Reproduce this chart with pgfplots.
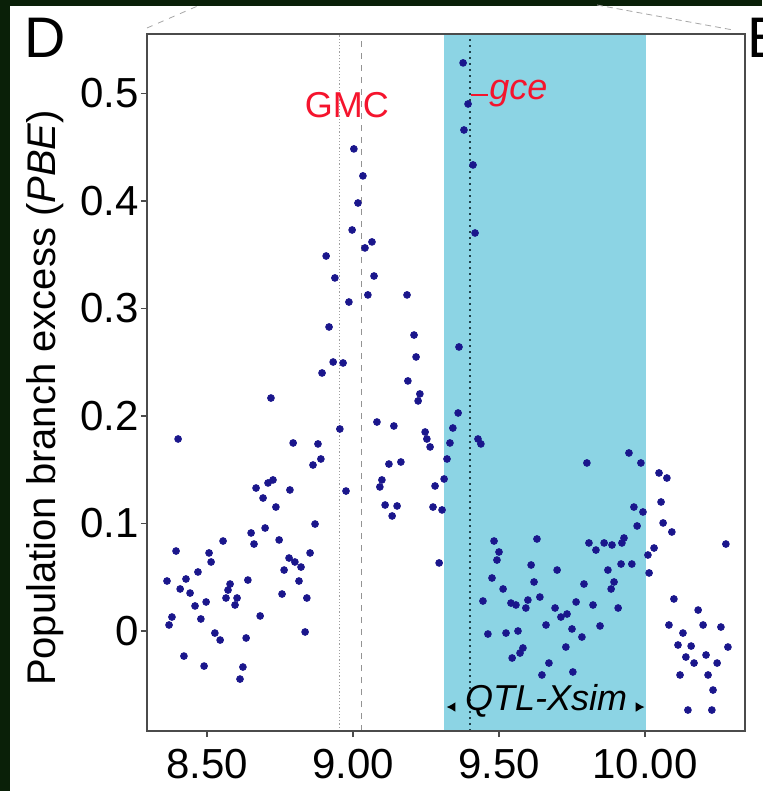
\documentclass[border=0pt]{standalone}
\usepackage{pgfplots}
\pgfplotsset{compat=1.18}
\usepackage{pgfplotstable}
\usepackage{fontspec}
\setmainfont{Liberation Sans}
\usetikzlibrary{arrows.meta}
\definecolor{bg}{RGB}{10,32,8}
\definecolor{qtl}{RGB}{140,212,228}
\definecolor{dots}{RGB}{26,22,140}
\definecolor{framec}{RGB}{75,75,75}
\definecolor{lblred}{RGB}{245,20,45}
\definecolor{gceline}{RGB}{30,65,75}

\pgfplotstableread{
x y
8.719 0.2167
8.401 0.1786
8.955 0.1879
8.795 0.1749
8.880 0.1740
8.890 0.1600
8.863 0.1544
8.726 0.1405
8.709 0.1377
8.668 0.1330
8.692 0.1237
8.784 0.1312
8.736 0.1153
8.976 0.1302
8.870 0.0995
8.651 0.0912
8.699 0.0958
8.661 0.0809
8.747 0.0847
8.555 0.0837
8.394 0.0744
8.507 0.0726
8.514 0.0642
8.853 0.0726
8.781 0.0679
8.801 0.0642
8.822 0.0595
8.764 0.0567
8.469 0.0549
8.363 0.0465
8.428 0.0484
8.640 0.0474
8.815 0.0465
8.579 0.0437
8.572 0.0381
8.408 0.0391
8.442 0.0353
8.459 0.0233
8.497 0.0270
8.565 0.0307
8.603 0.0307
8.596 0.0242
8.757 0.0344
8.842 0.0307
8.682 0.0140
8.479 0.0112
8.380 0.0130
8.370 0.0056
8.527 -0.0019
8.545 -0.0084
8.634 -0.0065
8.836 -0.0009
8.421 -0.0233
8.490 -0.0326
8.623 -0.0335
8.613 -0.0447
9.003 0.4484
9.034 0.4233
9.017 0.3981
8.997 0.3730
9.065 0.3619
9.041 0.3563
9.072 0.3302
9.051 0.3126
8.986 0.3060
9.185 0.3126
9.209 0.2753
9.216 0.2549
9.188 0.2326
8.966 0.2493
8.932 0.2502
8.908 0.3488
8.938 0.3284
8.918 0.2828
8.894 0.2400
9.229 0.2205
9.223 0.2140
9.082 0.1944
9.140 0.1907
9.247 0.1851
9.253 0.1786
9.264 0.1712
9.360 0.2028
9.342 0.1888
9.332 0.1749
9.322 0.1600
9.312 0.1414
9.281 0.1349
9.274 0.1153
9.305 0.1126
9.295 0.0633
9.123 0.1553
9.164 0.1572
9.099 0.1405
9.092 0.1340
9.110 0.1172
9.151 0.1163
9.134 0.1070
9.428 0.1786
9.438 0.1740
9.377 0.5284
9.394 0.4902
9.380 0.4660
9.411 0.4335
9.418 0.3702
9.363 0.2642
9.483 0.0837
9.500 0.0735
9.493 0.0660
9.476 0.0493
9.514 0.0391
9.445 0.0279
9.541 0.0260
9.558 0.0242
9.599 0.0288
9.630 0.0856
9.610 0.0614
9.620 0.0456
9.640 0.0316
9.699 0.0567
9.791 0.0437
9.822 0.0242
9.692 0.0214
9.712 0.0130
9.733 0.0158
9.764 0.0270
9.661 0.0056
9.750 0.0019
9.784 -0.0056
9.846 0.0047
9.729 -0.0149
9.671 -0.0298
9.647 -0.0409
9.753 -0.0381
9.462 -0.0028
9.524 -0.0019
9.565 0.0000
9.582 -0.0158
9.572 -0.0205
9.545 -0.0251
9.908 0.0214
9.873 0.0567
9.894 0.0456
9.884 0.0391
9.918 0.0623
9.955 0.0623
9.801 0.1563
9.945 0.1656
9.986 0.1563
10.048 0.1470
10.075 0.1423
10.055 0.1200
9.962 0.1153
9.993 0.1107
9.973 0.0977
10.062 0.1005
10.092 0.0921
9.808 0.0819
9.832 0.0753
9.860 0.0819
9.887 0.0800
9.921 0.0819
9.928 0.0865
10.010 0.0707
10.031 0.0772
10.014 0.0540
10.277 0.0809
10.099 0.0298
10.182 0.0195
10.082 0.0056
10.130 -0.0019
10.199 0.0056
10.260 0.0037
10.113 -0.0130
10.158 -0.0140
10.140 -0.0242
10.168 -0.0298
10.209 -0.0223
10.247 -0.0298
10.284 -0.0149
10.120 -0.0409
10.216 -0.0409
10.233 -0.0549
10.147 -0.0735
10.229 -0.0735
9.592 0.0214
}\pbedata

\begin{document}
\begin{tikzpicture}
% frame of the whole picture (axis box south-west corner is the origin)
\useasboundingbox (-73.5pt,365.5pt) rectangle (307.5pt,-30pt);
\fill[bg] (-73.5pt,365.5pt) rectangle (307.5pt,-30pt);
\fill[white] (-68.5pt,362.5pt) rectangle (307.5pt,-30pt);
% cropped remnants of the panel above
\draw[gray!70, dashed, line width=0.4pt] (0pt,351.5pt) -- (26.5pt,363pt);
\draw[gray!70, densely dashed, line width=0.4pt] (225pt,363pt) -- (293pt,350.5pt);
\node[anchor=base west, inner sep=0, font=\fontsize{28.6}{30}\selectfont] at (-61.5pt,336.5pt) {D};
\node[anchor=base west, inner sep=0, font=\fontsize{28.6}{30}\selectfont] at (300.2pt,336.5pt) {E};
\begin{axis}[
  at={(0pt,0pt)}, anchor=south west,
  scale only axis, width=299pt, height=348.5pt,
  xmin=8.2945, xmax=10.3425, ymin=-0.093, ymax=0.5553,
  axis on top,
  axis line style={framec, line width=1.1pt},
  tick align=outside, tick pos=left, major tick length=3pt,
  tick style={framec, line width=0.6pt},
  xtick={8.5,9,9.5,10}, xticklabels={8.50,9.00,9.50,10.00},
  ytick={0,0.1,0.2,0.3,0.4,0.5}, yticklabels={0,0.1,0.2,0.3,0.4,0.5},
  ticklabel style={font=\fontsize{21}{25}\selectfont, inner sep=1pt},
  xticklabel style={yshift=-5pt},
  ylabel={Population branch excess (\textit{PBE})},
  ylabel style={font=\fontsize{20}{24}\selectfont, at={(axis description cs:-0.1706,0.478)}, anchor=center},
]
% QTL-Xsim interval
\addplot[fill=qtl, draw=none] coordinates {(9.3116,-0.093) (10.0034,-0.093) (10.0034,0.5553) (9.3116,0.5553)} -- cycle;
% GMC lines
\addplot[gray!75, densely dotted, line width=0.6pt] coordinates {(8.955,-0.093) (8.955,0.5553)};
\addplot[gray!85, dashed, line width=0.6pt] coordinates {(9.029,-0.093) (9.029,0.5553)};
% gce line
\addplot[gceline, dotted, line width=1pt] coordinates {(9.4007,-0.093) (9.4007,0.5553)};
% data
\addplot[only marks, mark=*, mark size=1.7pt, color=dots, mark options={fill=dots, draw=dots}] table[x=x,y=y] {\pbedata};
% annotations
\node[lblred, font=\fontsize{18}{20}\selectfont] at (axis cs:8.979,0.489) {GMC};
\draw[lblred, line width=0.9pt] (axis cs:9.403,0.4985) -- (axis cs:9.462,0.4985);
\node[lblred, anchor=base west, inner sep=0, font=\fontsize{18}{20}\selectfont\itshape] at (axis cs:9.466,0.494) {gce};
\node[black, font=\fontsize{18}{20}\selectfont\itshape] at (axis cs:9.661,-0.0651) {QTL-Xsim};
\draw[-{Latex[length=4.5pt,width=5pt]}, line width=0.8pt] (axis cs:9.347,-0.0707) -- (axis cs:9.320,-0.0707);
\draw[-{Latex[length=4.5pt,width=5pt]}, line width=0.8pt] (axis cs:9.972,-0.0707) -- (axis cs:9.999,-0.0707);
\end{axis}
\end{tikzpicture}
\end{document}
